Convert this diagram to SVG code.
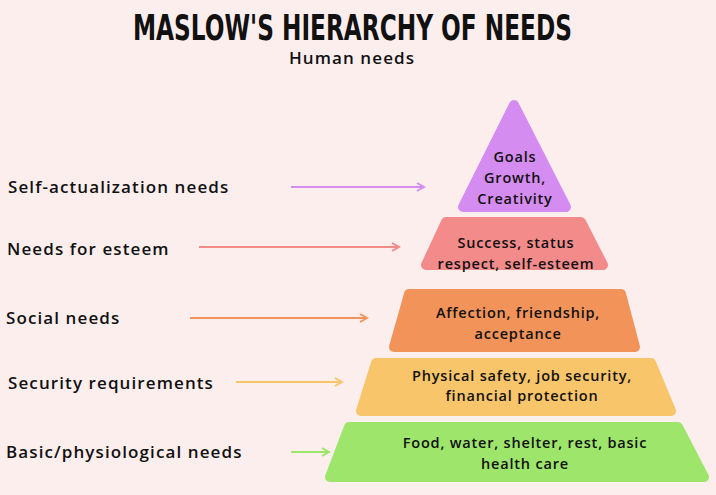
<svg xmlns="http://www.w3.org/2000/svg" width="716" height="495" viewBox="0 0 716 495">
<style>
.lbl{font-family:"Open Sans","Liberation Sans",sans-serif;font-weight:600;font-size:17px;fill:#111;letter-spacing:1.1px}
.in{font-family:"Open Sans","Liberation Sans",sans-serif;font-weight:600;font-size:14.5px;fill:#111;text-anchor:middle;letter-spacing:0.8px}
.sh{stroke-linejoin:round;stroke-width:10}
.ar{stroke-width:2;fill:none}
</style>
<defs>
<marker id="m" markerWidth="10" markerHeight="10" refX="8" refY="5" orient="auto" markerUnits="userSpaceOnUse"><path d="M1,1 L8,5 L1,9" fill="none" stroke="context-stroke" stroke-width="2"/></marker>
</defs>
<rect width="716" height="495" fill="#fdeeee"/>
<text x="133" y="40" textLength="439" lengthAdjust="spacingAndGlyphs" font-family="DejaVu Sans Condensed, DejaVu Sans, sans-serif" font-weight="bold" font-size="35" fill="#111">MASLOW'S HIERARCHY OF NEEDS</text>
<text x="352" y="64" text-anchor="middle" class="lbl" font-size="16">Human needs</text>
<g id="connectors">
<line class="ar" x1="291" y1="187" x2="424" y2="187" stroke="#d58cf0" marker-end="url(#m)"/>
<line class="ar" x1="199" y1="247" x2="399" y2="247" stroke="#f48b8b" marker-end="url(#m)"/>
<line class="ar" x1="190" y1="318" x2="367" y2="318" stroke="#f2935a" marker-end="url(#m)"/>
<line class="ar" x1="236" y1="382" x2="342" y2="382" stroke="#f8c56a" marker-end="url(#m)"/>
<line class="ar" x1="291" y1="452" x2="329" y2="452" stroke="#9de56b" marker-end="url(#m)"/>
</g>
<g id="self">
<polygon class="sh" points="514,105 566,207 463,207" fill="#d58cf0" stroke="#d58cf0"/>
<text class="in" x="515" y="162">Goals</text><text class="in" x="515" y="183">Growth,</text><text class="in" x="515" y="204">Creativity</text>
<text class="lbl" x="8" y="193">Self-actualization needs</text>
</g>
<g id="esteem">
<polygon class="sh" points="446,222 581,222 603,265 426,265" fill="#f48b8b" stroke="#f48b8b"/>
<text class="in" x="516" y="248">Success, status</text><text class="in" x="516" y="269">respect, self-esteem</text>
<text class="lbl" x="7" y="255">Needs for esteem</text>
</g>
<g id="social">
<polygon class="sh" points="409,294 621,294 635,347 394,347" fill="#f2935a" stroke="#f2935a"/>
<text class="in" x="518" y="318">Affection, friendship,</text><text class="in" x="518" y="339">acceptance</text>
<text class="lbl" x="6" y="324">Social needs</text>
</g>
<g id="security">
<polygon class="sh" points="376,363 651,363 671,411 361,411" fill="#f8c56a" stroke="#f8c56a"/>
<text class="in" x="522" y="381">Physical safety, job security,</text><text class="in" x="522" y="401">financial protection</text>
<text class="lbl" x="8" y="389">Security requirements</text>
</g>
<g id="basic">
<polygon class="sh" points="349,427 678,427 704,477 330,477" fill="#9de56b" stroke="#9de56b"/>
<text class="in" x="525" y="448">Food, water, shelter, rest, basic</text><text class="in" x="525" y="469">health care</text>
<text class="lbl" x="6" y="458">Basic/physiological needs</text>
</g>
</svg>
